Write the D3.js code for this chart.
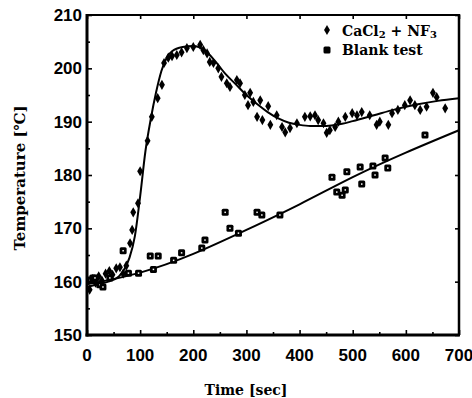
<!DOCTYPE html>
<html>
<head>
<meta charset="utf-8">
<script src="https://cdn.jsdelivr.net/npm/d3@7"></script>
<style>
  html, body { margin: 0; padding: 0; background: #fff; }
</style>
</head>
<body>
<div id="chart"></div>
<script>
// measured points, CaCl2 + NF3 run  [time s, temp C]
const caclPoints = [[5,158.5],[10,160.5],[16,159.8],[22,161],[28,160.2],[35,161.5],[42,162],[48,161.3],[55,162.5],[62,162.7],[68,161.5],[74,163],[81,167.2],[85,169.7],[87,173],[96,174.7],[100,180.7],[114,186.4],[122,190.9],[133,194.4],[141,196.9],[145,201],[153,202],[160,202.3],[169,202.5],[178,203],[188,203.8],[200,204],[213,204.4],[219,203.4],[226,202.8],[231,201.2],[238,201],[247,200],[253,198.4],[263,197.2],[269,196.5],[282,197.8],[288,197.2],[297,195],[303,193.1],[307,195.4],[313,193.7],[320,190.9],[326,194],[330,190.3],[341,192.9],[345,189.4],[357,191.2],[367,189],[373,188],[382,188.8],[395,189.7],[410,190.9],[420,191],[429,191.2],[435,190.3],[445,189.7],[451,187.9],[457,188.4],[467,189],[473,190],[486,190.9],[499,191.6],[508,191.2],[517,191.8],[532,191.2],[545,189.4],[551,190],[567,189.4],[574,191.6],[585,192.2],[598,193.1],[608,194],[617,193.1],[627,192.2],[639,192.8],[651,195.4],[658,194.6],[674,192.5]];

// blank test
const blankPoints = [[6,160.3],[11,160.7],[15,160.7],[24,159.4],[30,159],[43,160.7],[68,165.8],[78,161.6],[97,161.6],[119,164.8],[134,164.8],[125,162.3],[163,164],[178,165.4],[216,166.3],[222,167.8],[260,173],[269,170],[285,169.1],[320,173],[329,172.5],[363,172.5],[461,179.6],[470,176.8],[480,176.2],[486,177.2],[489,180.6],[514,181.5],[517,178.3],[538,181.7],[542,180],[561,183.2],[566,181.3],[636,187.5]];

// fitted curves
const caclFitT = [0,20,40,60,70,80,90,100,110,120,130,140,150,160,180,200,220,240,260,280,300,320,340,360,380,400,420,440,460,480,500,540,580,620,660,700];
const caclFitV = [159,159.5,160,161,162.3,164.5,168.5,176,184.5,190.5,195.5,199.5,202,203.2,204,204.2,203.5,201.5,199,197,195,193.3,191.8,190.6,189.8,189.4,189.2,189.2,189.3,189.6,190.1,191.2,192.3,193.2,193.9,194.4];
const blankFitT = [0,100,200,300,400,500,600,700];
const blankFitV = [159.5,161.7,165.2,169.7,174.5,179.6,184.2,188.4];

const xTicks = [0,100,200,300,400,500,600,700];
const yTicks = [150,160,170,180,190,200,210];

const W = 472, H = 398;
const m = {top: 15, right: 13, bottom: 63, left: 87};
const iw = W - m.left - m.right, ih = H - m.top - m.bottom;

const svg = d3.select("#chart").append("svg")
  .attr("width", W).attr("height", H);

const g = svg.append("g").attr("transform", `translate(${m.left},${m.top})`);

const x = d3.scaleLinear().domain([0, 700]).range([0, iw]);
const y = d3.scaleLinear().domain([150, 210]).range([ih, 0]);

// inward ticks on all sides
const minorX = d3.range(50, 700, 100), minorY = d3.range(155, 210, 10);
g.append("g").attr("transform", `translate(0,${ih})`)
  .call(d3.axisBottom(x).tickValues(xTicks).tickSize(-5).tickFormat(""))
  .call(a => a.select(".domain").remove());
g.append("g").attr("transform", `translate(0,${ih})`)
  .call(d3.axisBottom(x).tickValues(minorX).tickSize(-3).tickFormat(""))
  .call(a => a.select(".domain").remove());
g.append("g").call(d3.axisTop(x).tickValues(xTicks).tickSize(-4).tickFormat(""))
  .call(a => a.select(".domain").remove());
g.append("g").call(d3.axisLeft(y).tickValues(yTicks).tickSize(-5).tickFormat(""))
  .call(a => a.select(".domain").remove());
g.append("g").call(d3.axisLeft(y).tickValues(minorY).tickSize(-3).tickFormat(""))
  .call(a => a.select(".domain").remove());
g.append("g").attr("transform", `translate(${iw},0)`)
  .call(d3.axisRight(y).tickValues(yTicks).tickSize(-4).tickFormat(""))
  .call(a => a.select(".domain").remove());
g.selectAll(".tick line").attr("stroke", "#000").attr("stroke-width", 1.6);

// tick labels
g.append("g").selectAll("text").data(xTicks).join("text")
  .attr("x", d => x(d)).attr("y", ih + 26)
  .attr("text-anchor", "middle")
  .attr("font-family", "Liberation Sans, Arial, sans-serif")
  .attr("font-weight", "bold").attr("font-size", 17)
  .text(d => d);
g.append("g").selectAll("text").data(yTicks).join("text")
  .attr("x", -5).attr("y", d => y(d) + 6)
  .attr("text-anchor", "end")
  .attr("font-family", "Liberation Sans, Arial, sans-serif")
  .attr("font-weight", "bold").attr("font-size", 17)
  .text(d => d);

// frame
g.append("line").attr("x1", 0).attr("x2", 0).attr("y1", -1).attr("y2", ih + 1.5)
  .attr("stroke", "#000").attr("stroke-width", 3);
g.append("line").attr("x1", -1.5).attr("x2", iw + 1).attr("y1", ih).attr("y2", ih)
  .attr("stroke", "#000").attr("stroke-width", 3);
g.append("line").attr("x1", 0).attr("x2", iw).attr("y1", 0).attr("y2", 0)
  .attr("stroke", "#000").attr("stroke-width", 2);
g.append("line").attr("x1", iw).attr("x2", iw).attr("y1", -1).attr("y2", ih)
  .attr("stroke", "#000").attr("stroke-width", 2.5);

// fit lines
const line = d3.line().x(d => x(d[0])).y(d => y(d[1])).curve(d3.curveMonotoneX);
g.append("path").datum(caclFitT.map((t, i) => [t, caclFitV[i]]))
  .attr("d", line).attr("fill", "none").attr("stroke", "#000").attr("stroke-width", 2);
g.append("path").datum(blankFitT.map((t, i) => [t, blankFitV[i]]))
  .attr("d", line.curve(d3.curveNatural)).attr("fill", "none").attr("stroke", "#000").attr("stroke-width", 2);

// markers
const diamond = d3.symbol().type(d3.symbolDiamond).size(30);
g.append("g").selectAll("path").data(caclPoints).join("path")
  .attr("transform", d => `translate(${x(d[0])},${y(d[1])})`)
  .attr("d", diamond).attr("fill", "#000");

const bl = g.append("g").selectAll("g").data(blankPoints).join("g")
  .attr("transform", d => `translate(${x(d[0])},${y(d[1])})`);
bl.append("rect").attr("x", -3.5).attr("y", -3.5).attr("width", 7).attr("height", 7)
  .attr("rx", 1.5).attr("fill", "#000");
bl.append("rect").attr("x", -0.75).attr("y", -0.75).attr("width", 1.5).attr("height", 1.5).attr("fill", "#fff");

// legend
const serif = "DejaVu Serif, serif";
const lg = svg.append("g").attr("font-family", serif).attr("font-weight", "bold").attr("font-size", 14);
lg.append("path").attr("transform", "translate(327,30)").attr("d", diamond).attr("fill", "#000");
const t1 = lg.append("text").attr("x", 342).attr("y", 36);
t1.append("tspan").text("CaCl");
t1.append("tspan").attr("font-size", 10).attr("dy", 2).text("2");
t1.append("tspan").attr("dy", -2).text(" + NF");
t1.append("tspan").attr("font-size", 10).attr("dy", 2).text("3");
lg.append("rect").attr("x", 323.5).attr("y", 46.5).attr("width", 7).attr("height", 7).attr("rx", 1.5).attr("fill", "#000");
lg.append("text").attr("x", 342).attr("y", 55)
  .text("Blank test");

// axis titles
svg.append("text").attr("x", 246).attr("y", 395).attr("text-anchor", "middle")
  .attr("font-family", serif).attr("font-weight", "bold").attr("font-size", 14)
  .text("Time [sec]");
svg.append("text").attr("transform", "translate(25,178) rotate(-90)").attr("text-anchor", "middle")
  .attr("font-family", serif).attr("font-weight", "bold").attr("font-size", 15)
  .text("Temperature [\u2103]");
</script>
</body>
</html>
